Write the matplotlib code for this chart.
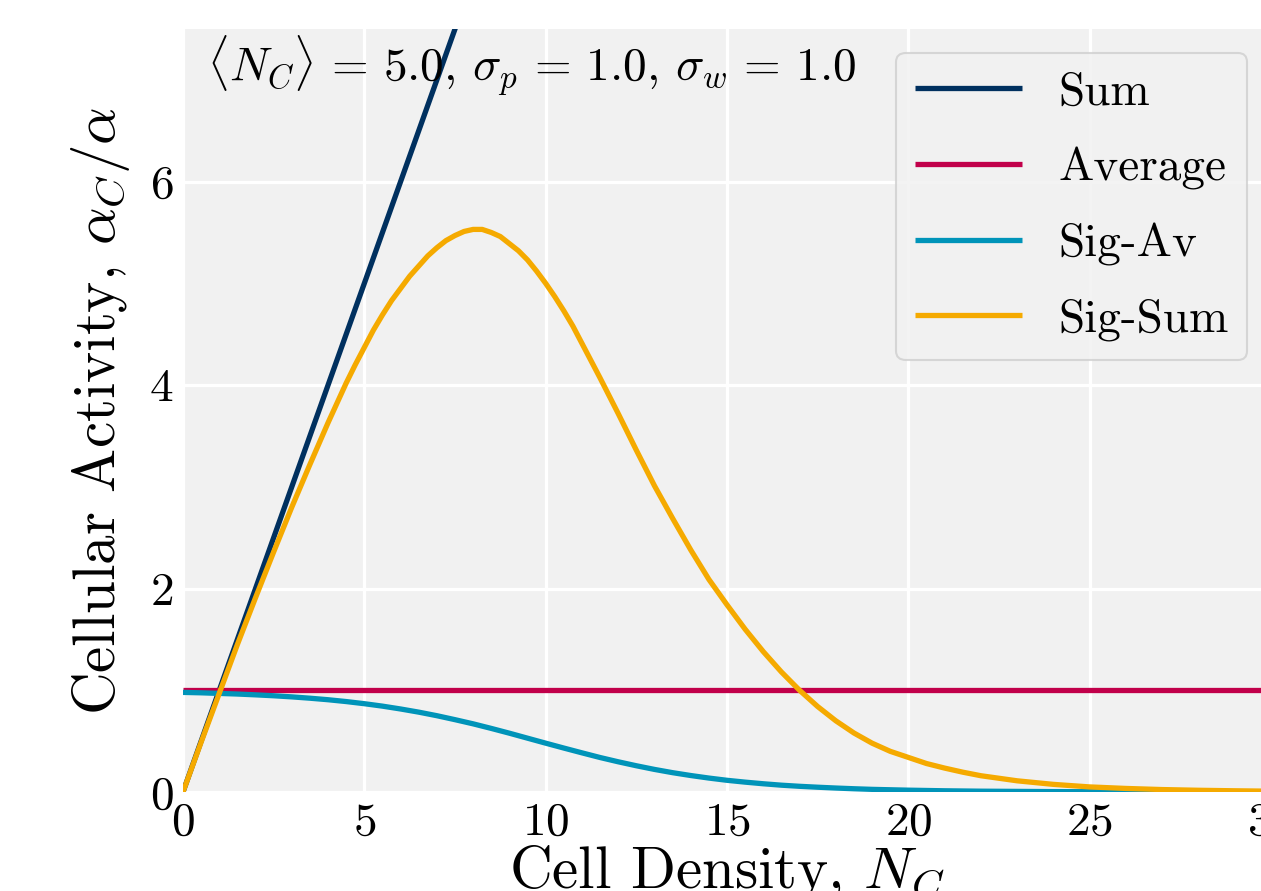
import matplotlib
matplotlib.use("Agg")
import matplotlib.pyplot as plt

# Sum and Average responses
sum_density = [0, 30]
sum_activity = [0, 30]
avg_density = [0, 30]
avg_activity = [1.0, 1.0]

# Sigmoid-average response
sig_av_density = [0, 0.5, 1, 1.5, 2, 2.5, 3, 3.5, 4, 4.5, 5, 5.5, 6, 6.5, 7, 7.5,
                  8, 8.5, 9, 9.5, 10, 10.5, 11, 11.5, 12, 12.5, 13, 13.5, 14,
                  14.5, 15, 15.5, 16, 16.5, 17, 17.5, 18, 18.5, 19, 19.5, 20,
                  20.5, 21, 21.5, 22, 23, 24, 25, 26, 27, 28, 29, 30]
sig_av = [0.979, 0.975, 0.969, 0.963, 0.955, 0.946, 0.935, 0.922, 0.907, 0.889,
          0.868, 0.844, 0.816, 0.785, 0.750, 0.711, 0.670, 0.625, 0.578, 0.529,
          0.480, 0.432, 0.385, 0.339, 0.297, 0.258, 0.222, 0.190, 0.162, 0.137,
          0.115, 0.097, 0.081, 0.067, 0.056, 0.047, 0.039, 0.032, 0.026, 0.022,
          0.018, 0.015, 0.012, 0.010, 0.008, 0.006, 0.004, 0.003, 0.002, 0.001,
          0.001, 0.001, 0.000]

# Sigmoid-sum response
sig_sum_density = [0, 0.5, 1, 1.5, 2, 2.5, 3, 3.5, 4, 4.5, 4.75, 5, 5.25, 5.5,
                   5.75, 6, 6.25, 6.5, 6.75, 7, 7.25, 7.5, 7.75, 8, 8.25, 8.5,
                   8.75, 9, 9.25, 9.5, 9.75, 10, 10.25, 10.5, 10.75, 11, 11.5,
                   12, 12.5, 13, 13.5, 14, 14.5, 15, 15.5, 16, 16.5, 17, 17.5,
                   18, 18.5, 19, 19.5, 20, 20.5, 21, 21.5, 22, 23, 24, 25, 26,
                   27, 28, 29, 30]
sig_sum = [0.00, 0.49, 0.97, 1.45, 1.91, 2.36, 2.80, 3.22, 3.63, 4.02, 4.20,
           4.37, 4.54, 4.69, 4.83, 4.95, 5.07, 5.17, 5.27, 5.35, 5.42, 5.47,
           5.51, 5.53, 5.53, 5.50, 5.46, 5.39, 5.32, 5.23, 5.12, 5.00, 4.87,
           4.73, 4.58, 4.41, 4.07, 3.72, 3.36, 3.01, 2.69, 2.38, 2.09, 1.84,
           1.60, 1.38, 1.18, 1.00, 0.84, 0.70, 0.58, 0.48, 0.40, 0.34, 0.28,
           0.235, 0.195, 0.16, 0.11, 0.075, 0.05, 0.035, 0.024, 0.017, 0.012,
           0.008]

x_ticks = [0, 5, 10, 15, 20, 25, 30]
y_ticks = [0, 2, 4, 6]

plt.rcParams['font.family'] = 'serif'
plt.rcParams['font.serif'] = ['cmr10']
plt.rcParams['mathtext.fontset'] = 'cm'
plt.rcParams['axes.unicode_minus'] = False
plt.rcParams['axes.formatter.use_mathtext'] = True

panel = '#f1f1f1'

fig = plt.figure(figsize=(12.61, 8.91), dpi=100)
fig.patch.set_facecolor('white')
ax = fig.add_axes([0.14512, 0.11111, 0.86281, 0.85634])
ax.set_facecolor(panel)
for s in ax.spines.values():
    s.set_visible(False)
ax.grid(True, color='white', linewidth=2.3)
ax.set_axisbelow(True)

lw = 3.8
kw = dict(lw=lw, solid_joinstyle='round', solid_capstyle='butt')
ax.plot(sum_density, sum_activity, color='#00305f', label='Sum', **kw)
ax.plot(avg_density, avg_activity, color='#c1004a', label='Average', **kw)
ax.plot(sig_av_density, sig_av, color='#0094b9', label='Sig-Av', **kw)
ax.plot(sig_sum_density, sig_sum, color='#f5aa00', label='Sig-Sum', **kw)

ax.set_xlim(0, 30)
ax.set_ylim(0, 7.5)
ax.set_xticks(x_ticks)
ax.set_yticks(y_ticks)
ax.tick_params(axis='both', length=0, labelsize=34, pad=7)

ax.set_xlabel(r'Cell Density, $N_C$', fontsize=42.5, labelpad=0)
ax.set_ylabel(r'Cellular Activity, $\alpha_C/\alpha$', fontsize=42.5, labelpad=12)

ax.text(0.022, 0.93,
        r'$\langle N_C\rangle\,=\,5.0$, $\sigma_p\,=\,1.0$, $\sigma_w\,=\,1.0$',
        transform=ax.transAxes, fontsize=34, va='baseline', ha='left')

leg = ax.legend(loc='upper right', fontsize=34, fancybox=True,
                facecolor=panel, edgecolor='#cfcfcf', framealpha=0.8,
                labelspacing=0.7, handlelength=2.27, handletextpad=0.76,
                borderpad=0.4)
leg.get_frame().set_linewidth(1.5)

fig.savefig('out.png', dpi=100)
